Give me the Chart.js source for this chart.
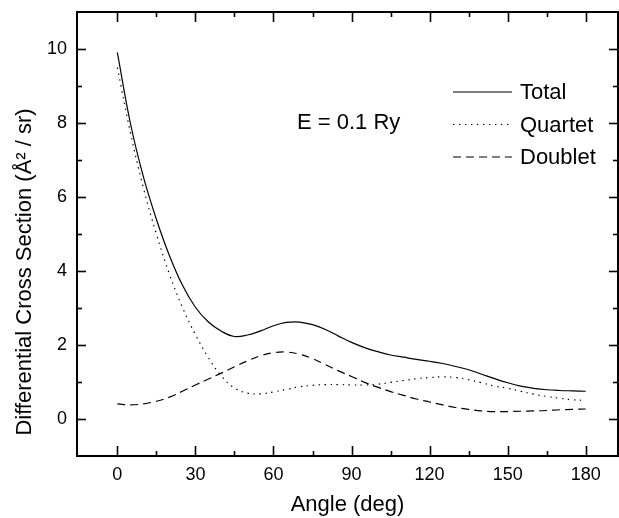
<!DOCTYPE html>
<html><head><meta charset="utf-8">
<script src="https://cdn.jsdelivr.net/npm/chart.js@4"></script>
<style>html,body{margin:0;padding:0;background:#fff}</style>
</head><body>
<canvas id="c" width="619" height="518"></canvas>
<script>
// ---- data ----
const angles  = [0,5,10,15,20,25,30,35,40,45,50,55,60,65,70,75,80,85,90,95,100,105,110,115,120,125,130,135,140,145,150,155,160,165,170,175,180];
const total   = [9.91,8.00,6.55,5.40,4.42,3.62,3.02,2.62,2.37,2.23,2.27,2.38,2.52,2.61,2.62,2.55,2.42,2.24,2.07,1.93,1.82,1.73,1.67,1.61,1.56,1.50,1.42,1.33,1.21,1.09,0.98,0.89,0.83,0.79,0.77,0.76,0.75];
const quartet = [9.50,7.75,6.25,5.00,3.92,3.02,2.28,1.66,1.16,0.84,0.70,0.68,0.73,0.80,0.87,0.91,0.93,0.93,0.92,0.92,0.94,0.99,1.04,1.09,1.12,1.14,1.12,1.06,0.98,0.89,0.83,0.75,0.67,0.61,0.56,0.52,0.50];
const doublet = [0.41,0.38,0.41,0.48,0.59,0.75,0.92,1.08,1.24,1.41,1.57,1.71,1.79,1.81,1.75,1.63,1.47,1.30,1.15,0.99,0.86,0.74,0.64,0.54,0.46,0.38,0.31,0.26,0.22,0.20,0.20,0.21,0.22,0.23,0.25,0.26,0.27];
const seriesNames = ['Total','Quartet','Doublet'];
const xTickValues = [0,30,60,90,120,150,180];
const yTickValues = [0,2,4,6,8,10];
const xMinorValues = [15,45,75,105,135,165];
const yMinorValues = [1,3,5,7,9];
const annotationText = 'E = 0.1 Ry';
const xTitle = 'Angle (deg)';
const yTitle = 'Differential Cross Section (Å² / sr)';

const FONT = "'Liberation Sans', Arial, Helvetica, sans-serif";
const toPts = arr => angles.map((a, i) => ({x: a, y: arr[i]}));
const styles = [
  {borderDash: []},
  {borderDash: [1.4, 4.6]},
  {borderDash: [8, 5]}
];
const seriesData = [total, quartet, doublet];

const decor = {
  id: 'decor',
  afterDraw(chart) {
    const ctx = chart.ctx, a = chart.chartArea;
    const xs = chart.scales.x, ys = chart.scales.y;
    ctx.save();
    ctx.strokeStyle = '#000';
    ctx.fillStyle = '#000';
    // frame
    ctx.lineWidth = 2;
    ctx.strokeRect(a.left, a.top, a.right - a.left, a.bottom - a.top);
    // ticks (inward)
    ctx.lineWidth = 1.6;
    const tick = (x1, y1, x2, y2) => { ctx.beginPath(); ctx.moveTo(x1, y1); ctx.lineTo(x2, y2); ctx.stroke(); };
    xTickValues.forEach(v => { const p = Math.round(xs.getPixelForValue(v)) + 0.5; tick(p, a.bottom, p, a.bottom - 10); tick(p, a.top, p, a.top + 10); });
    xMinorValues.forEach(v => { const p = Math.round(xs.getPixelForValue(v)) + 0.5; tick(p, a.bottom, p, a.bottom - 5); tick(p, a.top, p, a.top + 5); });
    yTickValues.forEach(v => { const p = Math.round(ys.getPixelForValue(v)) + 0.5; tick(a.left, p, a.left + 9, p); tick(a.right, p, a.right - 9, p); });
    yMinorValues.forEach(v => { const p = Math.round(ys.getPixelForValue(v)) + 0.5; tick(a.left, p, a.left + 5, p); tick(a.right, p, a.right - 5, p); });
    // legend
    const legY = [92, 124.5, 157];
    ctx.font = '22px ' + FONT;
    ctx.textBaseline = 'middle';
    ctx.textAlign = 'left';
    seriesNames.forEach((n, i) => {
      ctx.save();
      ctx.lineWidth = 1.2;
      ctx.setLineDash(styles[i].borderDash);
      ctx.beginPath(); ctx.moveTo(453, legY[i]); ctx.lineTo(512, legY[i]); ctx.stroke();
      ctx.restore();
      ctx.fillText(n, 520, legY[i] + 1);
    });
    // annotation
    ctx.fillText(annotationText, 297, 123);
    // axis titles
    ctx.textAlign = 'center';
    ctx.fillText(xTitle, (a.left + a.right) / 2, 505);
    ctx.save();
    ctx.translate(25, 272);
    ctx.rotate(-Math.PI / 2);
    ctx.fillText(yTitle, 0, 0);
    ctx.restore();
    ctx.restore();
  }
};

new Chart(document.getElementById('c'), {
  type: 'line',
  data: {
    datasets: seriesNames.map((n, i) => ({
      label: n,
      data: toPts(seriesData[i]),
      borderColor: '#000',
      backgroundColor: '#000',
      borderWidth: 1.2,
      borderDash: styles[i].borderDash,
      pointRadius: 0,
      tension: 0.4,
      fill: false
    }))
  },
  options: {
    responsive: false,
    animation: false,
    devicePixelRatio: 1,
    layout: {padding: {top: 12, right: 1, left: 0, bottom: 0}},
    plugins: {legend: {display: false}, tooltip: {enabled: false}},
    scales: {
      x: {
        type: 'linear', min: -15.5, max: 192.4,
        afterBuildTicks: s => { s.ticks = xTickValues.map(v => ({value: v})); },
        afterFit: s => { s.height = 62; s.paddingLeft = 0; s.paddingRight = 0; },
        grid: {display: false, drawTicks: false},
        border: {display: false},
        ticks: {color: '#000', font: {family: FONT, size: 18}, padding: 8, maxRotation: 0, autoSkip: false}
      },
      y: {
        type: 'linear', min: -1, max: 11,
        afterBuildTicks: s => { s.ticks = yTickValues.map(v => ({value: v})); },
        afterFit: s => { s.width = 77; s.paddingTop = 0; s.paddingBottom = 0; },
        grid: {display: false, drawTicks: false},
        border: {display: false},
        ticks: {color: '#000', font: {family: FONT, size: 18}, padding: 10}
      }
    }
  },
  plugins: [decor]
});
</script>
</body></html>
